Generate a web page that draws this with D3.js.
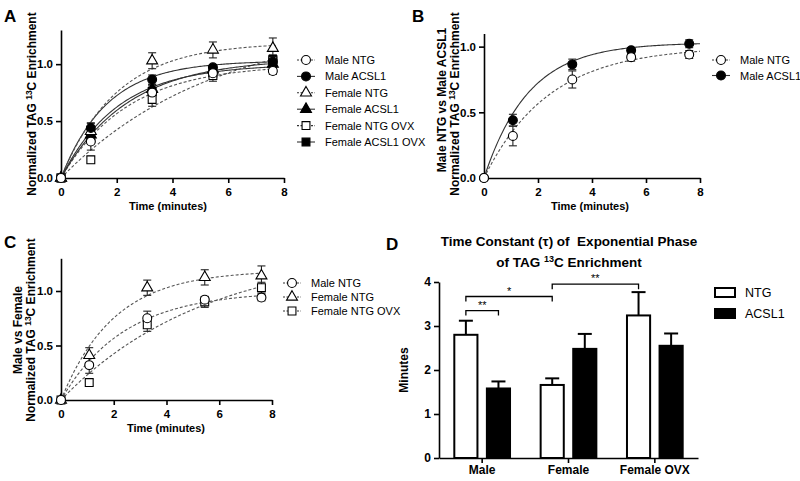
<!DOCTYPE html>
<html>
<head>
<meta charset="utf-8">
<script src="https://cdn.jsdelivr.net/npm/d3@7"></script>
<style>
  body { margin: 0; background: #fff; }
  text { font-family: "Liberation Sans", Arial, sans-serif; }
</style>
</head>
<body>
<svg id="fig" width="800" height="481"></svg>
<script>
// ---- data ----
var timePoints = [0, 1.07, 3.27, 5.45, 7.6];
var seriesNames = ["Male NTG", "Male ACSL1", "Female NTG", "Female ACSL1", "Female NTG OVX", "Female ACSL1 OVX"];

var maleNTG = [0, 0.32, 0.75, 0.92, 0.94];
var maleNTGErr = [0, 0.075, 0.065, 0.03, 0.03];
var maleACSL1 = [0, 0.44, 0.865, 0.972, 1.022];
var maleACSL1Err = [0, 0.045, 0.04, 0.02, 0.03];
var femaleNTG = [0, 0.41, 1.03, 1.125, 1.14];
var femaleNTGErr = [0, 0.07, 0.07, 0.07, 0.09];
var femaleACSL1 = [0, 0.38, 0.78, 0.95, 1.00];
var femaleACSL1Err = [0, 0.04, 0.04, 0.03, 0.03];
var femaleNTGOVX = [0, 0.16, 0.69, 0.90, 1.03];
var femaleNTGOVXErr = [0, 0.03, 0.06, 0.05, 0.05];
var femaleACSL1OVX = [0, 0.35, 0.76, 0.93, 1.04];
var femaleACSL1OVXErr = [0, 0.04, 0.04, 0.03, 0.04];

// one phase association fit, Y = plateau * (1 - exp(-t / tau))
var fitPlateau = [1.00, 1.03, 1.19, 1.00, 1.39, 1.05];
var fitTau = [2.4, 1.65, 2.0, 2.05, 5.5, 2.4];

var xTicks = [0, 2, 4, 6, 8];
var yTicks = [0, 0.5, 1.0];

var tauGroups = ["Male", "Female", "Female OVX"];
var tauGenotypes = ["NTG", "ACSL1"];
var tauNTG = [2.80, 1.66, 3.24];
var tauNTGErr = [0.32, 0.15, 0.53];
var tauACSL1 = [1.58, 2.48, 2.55];
var tauACSL1Err = [0.16, 0.34, 0.28];
var tauTicks = [0, 1, 2, 3, 4];
// significance: [group, genotype] -> [group, genotype], bracket level (minutes), label
var sigFrom = [["Male", "NTG"], ["Male", "NTG"], ["Female", "NTG"]];
var sigTo = [["Male", "ACSL1"], ["Female", "NTG"], ["Female OVX", "NTG"]];
var sigLevel = [3.35, 3.67, 3.95];
var sigLabel = ["**", "*", "**"];

var seriesValues = [maleNTG, maleACSL1, femaleNTG, femaleACSL1, femaleNTGOVX, femaleACSL1OVX];
var seriesErrors = [maleNTGErr, maleACSL1Err, femaleNTGErr, femaleACSL1Err, femaleNTGOVXErr, femaleACSL1OVXErr];
var seriesShape = [d3.symbolCircle, d3.symbolCircle, d3.symbolTriangle, d3.symbolTriangle, d3.symbolSquare, d3.symbolSquare];
var seriesSize = [62, 62, 52, 52, 62, 62];
var seriesOpen = [true, false, true, false, true, false];

var svg = d3.select("#fig");

function panelLetter(x, y, s) {
  svg.append("text").attr("x", x).attr("y", y).attr("font-size", 17).attr("font-weight", "bold").text(s);
}

// vertical axis title with superscript 13 in "13C"
function enrichTitle(g, x, y) {
  var t = g.append("text").attr("transform", "translate(" + x + "," + y + ") rotate(-90)")
    .attr("text-anchor", "middle").attr("font-size", 12).attr("font-weight", "bold");
  t.append("tspan").text("Normalized TAG ");
  t.append("tspan").attr("dy", -4).attr("font-size", 8.5).text("13");
  t.append("tspan").attr("dy", 4).text("C Enrichment");
}

function xyPanel(cfg) {
  var g = svg.append("g");
  var x = d3.scaleLinear().domain([0, 8]).range(cfg.xr);
  var y = d3.scaleLinear().domain([0, cfg.ymax]).range(cfg.yr);

  var xAxis = g.append("g").attr("transform", "translate(0," + cfg.yr[0] + ")")
    .call(d3.axisBottom(x).tickValues(xTicks).tickSize(5).tickSizeOuter(0));
  var yAxis = g.append("g").attr("transform", "translate(" + cfg.xr[0] + ",0)")
    .call(d3.axisLeft(y).tickValues(yTicks).tickFormat(d3.format(".1f")).tickSize(5).tickSizeOuter(0));
  [xAxis, yAxis].forEach(function (a) {
    a.selectAll("path, line").attr("stroke", "#000").attr("stroke-width", 1.6);
    a.selectAll("text").attr("font-size", 11.5).attr("font-weight", "bold").attr("fill", "#000")
      .attr("font-family", "Liberation Sans, Arial, sans-serif");
  });
  xAxis.selectAll("text").attr("dy", "0.85em");

  g.append("text").attr("x", cfg.xTitleX).attr("y", cfg.yr[0] + 32)
    .attr("text-anchor", "middle").attr("font-size", 11).attr("font-weight", "bold").text("Time (minutes)");

  var line = d3.line().x(function (d) { return x(d[0]); }).y(function (d) { return y(d[1]); });

  // fitted curves
  cfg.series.forEach(function (i) {
    var pts = d3.range(0, cfg.curveEnd + 0.001, 0.05).map(function (t) {
      return [t, fitPlateau[i] * (1 - Math.exp(-t / fitTau[i]))];
    });
    g.append("path").datum(pts).attr("d", line).attr("fill", "none")
      .attr("stroke", seriesOpen[i] ? "#555" : "#333").attr("stroke-width", 1.1)
      .attr("stroke-dasharray", seriesOpen[i] ? "3,2" : null);
  });

  // points and error bars, filled series first so open ones sit on top
  var order = cfg.series.slice().reverse();
  order.forEach(function (i) {
    var pts = timePoints.map(function (t, k) { return { t: t, v: seriesValues[i][k], e: seriesErrors[i][k] }; });
    var eb = g.append("g").attr("stroke", "#222").attr("stroke-width", 1.1);
    pts.filter(function (d) { return d.e > 0; }).forEach(function (d) {
      var cx = x(d.t);
      eb.append("line").attr("x1", cx).attr("x2", cx).attr("y1", y(d.v - d.e)).attr("y2", y(d.v + d.e));
      eb.append("line").attr("x1", cx - 4).attr("x2", cx + 4).attr("y1", y(d.v - d.e)).attr("y2", y(d.v - d.e));
      eb.append("line").attr("x1", cx - 4).attr("x2", cx + 4).attr("y1", y(d.v + d.e)).attr("y2", y(d.v + d.e));
    });
  });
  order.forEach(function (i) {
    var pts = timePoints.map(function (t, k) { return { t: t, v: seriesValues[i][k] }; });
    g.append("g").selectAll("path").data(pts).enter().append("path")
      .attr("d", d3.symbol().type(seriesShape[i]).size(seriesSize[i]))
      .attr("transform", function (d) { return "translate(" + x(d.t) + "," + y(d.v) + ")"; })
      .attr("fill", seriesOpen[i] ? "#fff" : "#000").attr("stroke", "#000").attr("stroke-width", 1.1);
  });

  // legend
  var lg = g.append("g").attr("transform", "translate(" + cfg.legend[0] + "," + cfg.legend[1] + ")");
  cfg.series.forEach(function (i, k) {
    var row = lg.append("g").attr("transform", "translate(0," + (k * cfg.legend[2]) + ")");
    row.append("line").attr("x1", -9).attr("x2", 9).attr("y1", 0).attr("y2", 0)
      .attr("stroke", "#333").attr("stroke-width", 1.1).attr("stroke-dasharray", seriesOpen[i] ? "2,1.5" : null);
    row.append("path").attr("d", d3.symbol().type(seriesShape[i]).size(seriesSize[i]))
      .attr("fill", seriesOpen[i] ? "#fff" : "#000").attr("stroke", "#000").attr("stroke-width", 1.1);
    row.append("text").attr("x", 19).attr("y", 4).attr("font-size", 11).text(seriesNames[i]);
  });
  return g;
}

// ---- panel A ----
panelLetter(4, 22, "A");
var gA = xyPanel({ xr: [61, 284], yr: [178, 30], ymax: 1.3, series: [0, 1, 2, 3, 4, 5],
  curveEnd: 7.7, xTitleX: 168, legend: [306, 60, 16.4] });
enrichTitle(gA, 36, 104);

// ---- panel B ----
panelLetter(412, 22, "B");
var gB = xyPanel({ xr: [484, 700], yr: [178, 33.5], ymax: 1.1, series: [0, 1],
  curveEnd: 8, xTitleX: 590, legend: [721, 60, 15.5] });
gB.append("text").attr("transform", "translate(446,100) rotate(-90)").attr("text-anchor", "middle")
  .attr("font-size", 12).attr("font-weight", "bold").text("Male NTG vs Male ACSL1");
enrichTitle(gB, 459, 104);

// ---- panel C ----
panelLetter(4, 248, "C");
var gC = xyPanel({ xr: [61, 272], yr: [400, 258.3], ymax: 1.3, series: [0, 2, 4],
  curveEnd: 7.65, xTitleX: 166, legend: [292, 283, 14] });
gC.append("text").attr("transform", "translate(22,330) rotate(-90)").attr("text-anchor", "middle")
  .attr("font-size", 12).attr("font-weight", "bold").text("Male vs Female");
enrichTitle(gC, 35, 330);

// ---- panel D ----
panelLetter(386, 250, "D");
(function () {
  var g = svg.append("g");
  var x0 = d3.scaleBand().domain(tauGroups).range([439, 698]).paddingInner(0).paddingOuter(0);
  var x1 = d3.scaleBand().domain(tauGenotypes).range([0, x0.bandwidth()]).paddingInner(0.29).paddingOuter(0.47);
  var y = d3.scaleLinear().domain([0, 4]).range([458, 282]);

  g.append("text").attr("text-anchor", "middle").attr("font-size", 13.5).attr("font-weight", "bold")
    .attr("x", 569).attr("y", 246).text("Time Constant (\u03C4) of\u00A0 Exponential Phase");
  var t2 = g.append("text").attr("text-anchor", "middle").attr("font-size", 13.5).attr("font-weight", "bold")
    .attr("x", 569).attr("y", 267);
  t2.append("tspan").text("of TAG ");
  t2.append("tspan").attr("dy", -5).attr("font-size", 9).text("13");
  t2.append("tspan").attr("dy", 5).text("C Enrichment");

  var rows = [];
  tauGroups.forEach(function (grp, k) {
    rows.push({ grp: grp, gen: "NTG", v: tauNTG[k], e: tauNTGErr[k] });
    rows.push({ grp: grp, gen: "ACSL1", v: tauACSL1[k], e: tauACSL1Err[k] });
  });
  function cx(grp, gen) { return x0(grp) + x1(gen) + x1.bandwidth() / 2; }

  // error bars (upper only)
  rows.forEach(function (d) {
    var c = cx(d.grp, d.gen);
    g.append("line").attr("x1", c).attr("x2", c).attr("y1", y(d.v)).attr("y2", y(d.v + d.e))
      .attr("stroke", "#000").attr("stroke-width", 2);
    g.append("line").attr("x1", c - 7).attr("x2", c + 7).attr("y1", y(d.v + d.e)).attr("y2", y(d.v + d.e))
      .attr("stroke", "#000").attr("stroke-width", 2);
  });

  g.selectAll("rect.bar").data(rows).enter().append("rect").attr("class", "bar")
    .attr("x", function (d) { return x0(d.grp) + x1(d.gen); })
    .attr("y", function (d) { return y(d.v); })
    .attr("width", x1.bandwidth())
    .attr("height", function (d) { return y(0) - y(d.v); })
    .attr("fill", function (d) { return d.gen === "NTG" ? "#fff" : "#000"; })
    .attr("stroke", "#000").attr("stroke-width", 2);

  // axes
  var yAxis = g.append("g").attr("transform", "translate(439,0)")
    .call(d3.axisLeft(y).tickValues(tauTicks).tickFormat(d3.format("d")).tickSize(5).tickSizeOuter(0));
  var xAxis = g.append("g").attr("transform", "translate(0,458)")
    .call(d3.axisBottom(x0).tickSize(5).tickSizeOuter(0));
  [xAxis, yAxis].forEach(function (a) {
    a.selectAll("path, line").attr("stroke", "#000").attr("stroke-width", 1.6);
    a.selectAll("text").attr("font-size", 12).attr("font-weight", "bold").attr("fill", "#000")
      .attr("font-family", "Liberation Sans, Arial, sans-serif");
  });
  xAxis.selectAll("text").attr("dy", "0.7em");

  g.append("text").attr("transform", "translate(408,370) rotate(-90)").attr("text-anchor", "middle")
    .attr("font-size", 12).attr("font-weight", "bold").text("Minutes");

  // significance brackets
  sigLabel.forEach(function (lab, k) {
    var a = cx(sigFrom[k][0], sigFrom[k][1]), b = cx(sigTo[k][0], sigTo[k][1]);
    var yy = y(sigLevel[k]);
    g.append("path").attr("d", "M" + a + "," + (yy + 5) + "V" + yy + "H" + b + "V" + (yy + 5))
      .attr("fill", "none").attr("stroke", "#000").attr("stroke-width", 1.3);
    g.append("text").attr("x", (a + b) / 2).attr("y", yy - 2).attr("text-anchor", "middle")
      .attr("font-size", 11).text(lab);
  });

  // legend
  var lg = g.append("g").attr("transform", "translate(715,288)");
  tauGenotypes.forEach(function (gen, k) {
    lg.append("rect").attr("x", 0).attr("y", k * 21).attr("width", 20).attr("height", 9)
      .attr("fill", gen === "NTG" ? "#fff" : "#000").attr("stroke", "#000").attr("stroke-width", 2);
    lg.append("text").attr("x", 30).attr("y", k * 21 + 9).attr("font-size", 12.5).text(gen);
  });
})();
</script>
</body>
</html>
